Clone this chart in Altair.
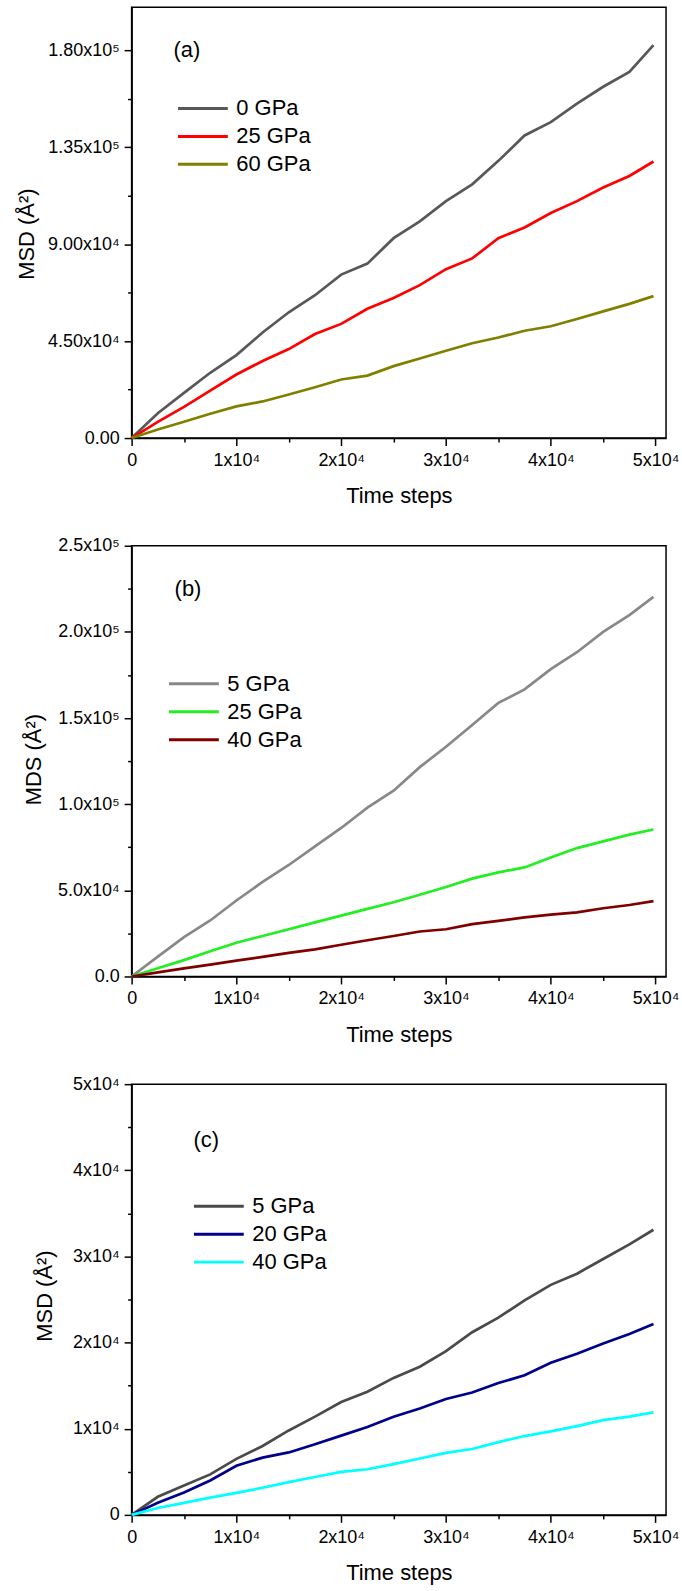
import json

import altair as alt
import pandas as pd

FONT = "Liberation Sans"

# Simulation time steps at which the curves are sampled
steps = [0, 2500, 5000, 7500, 10000, 12500, 15000, 17500, 20000, 22500, 25000,
         27500, 30000, 32500, 35000, 37500, 40000, 42500, 45000, 47500, 49800]

# (a) mean square displacement, Å²
a_names = ["0 GPa", "25 GPa", "60 GPa"]
a_colors = ["#58585a", "#ff0000", "#808000"]
a_0gpa = [0, 11500, 21000, 30300, 38500, 49000, 58400, 66300, 75900, 81000, 92800,
          100600, 110000, 117800, 128700, 140500, 146700, 155300, 163100, 170000, 182400]
a_25gpa = [0, 7500, 14500, 22000, 29500, 35800, 41300, 48300, 53000, 60000, 65000,
           71000, 78400, 83400, 92800, 97800, 104500, 110000, 116300, 121700, 128400]
a_60gpa = [0, 4000, 7600, 11300, 14700, 17000, 20200, 23600, 27200, 29000, 33400,
           36900, 40500, 44000, 46700, 49800, 51900, 55300, 58800, 62300, 65900]

# (b)
b_names = ["5 GPa", "25 GPa", "40 GPa"]
b_colors = ["#888888", "#22ee22", "#800000"]
b_5gpa = [0, 11500, 22800, 32500, 44100, 54900, 64700, 75500, 86200, 98000, 107800,
          121500, 133300, 146000, 158800, 166600, 178400, 188200, 200000, 209700, 220300]
b_25gpa = [0, 4800, 9500, 14600, 19600, 23500, 27400, 31400, 35300, 39200, 43100,
           47400, 51900, 56800, 60400, 63300, 69000, 74500, 78400, 82300, 85300]
b_40gpa = [0, 2400, 4700, 6900, 9200, 11400, 13700, 15700, 18400, 21000, 23500,
           26100, 27400, 30400, 32300, 34300, 35900, 37200, 39600, 41500, 43700]

# (c)
c_names = ["5 GPa", "20 GPa", "40 GPa"]
c_colors = ["#4a4a4a", "#00008b", "#00ffff"]
c_5gpa = [0, 2100, 3400, 4700, 6500, 8000, 9800, 11400, 13100, 14300, 15900,
          17200, 19000, 21200, 22900, 24900, 26700, 28000, 29700, 31400, 33100]
c_20gpa = [0, 1400, 2600, 4000, 5700, 6650, 7250, 8200, 9200, 10200, 11400,
           12350, 13450, 14200, 15300, 16200, 17650, 18700, 19900, 21000, 22150]
c_40gpa = [0, 800, 1400, 2000, 2550, 3150, 3800, 4400, 5000, 5300, 5900,
           6550, 7200, 7650, 8450, 9150, 9700, 10300, 11000, 11400, 11900]

# Axis ticks (empty label = minor tick)
x_tick_values = [0, 5000, 10000, 15000, 20000, 25000, 30000, 35000, 40000, 45000, 50000]
x_tick_labels = ["0", "", "1x10⁴", "", "2x10⁴", "", "3x10⁴", "", "4x10⁴", "", "5x10⁴"]

a_tick_values = [0, 22500, 45000, 67500, 90000, 112500, 135000, 157500, 180000]
a_tick_labels = ["0.00", "", "4.50x10⁴", "", "9.00x10⁴", "", "1.35x10⁵", "", "1.80x10⁵"]

b_tick_values = [0, 25000, 50000, 75000, 100000, 125000, 150000, 175000, 200000, 225000, 250000]
b_tick_labels = ["0.0", "", "5.0x10⁴", "", "1.0x10⁵", "", "1.5x10⁵", "", "2.0x10⁵", "", "2.5x10⁵"]

c_tick_values = [0, 5000, 10000, 15000, 20000, 25000, 30000, 35000, 40000, 45000, 50000]
c_tick_labels = ["0", "", "1x10⁴", "", "2x10⁴", "", "3x10⁴", "", "4x10⁴", "", "5x10⁴"]

W, H = 536, 432


def label_expr(values, labels):
    parts = [f"datum.value === {v} ? '{l}'" for v, l in zip(values, labels) if l]
    return " : ".join(parts) + " : ''"


def tick_size(values, labels):
    major = [v for v, l in zip(values, labels) if l]
    return {"condition": {"test": f"indexof({json.dumps(major)}, datum.value) >= 0",
                          "value": 7.5},
            "value": 4}


def panel(names, colors, series, y_max, y_values, y_labels, y_title,
          y_title_x, y_title_y, tag, tag_step, tag_msd, legend_x, legend_y):
    rows = []
    for name, vals in zip(names, series):
        for s, v in zip(steps, vals):
            rows.append({"step": s, "msd": v, "series": name})
    df = pd.DataFrame(rows)

    x = alt.X(
        "step:Q",
        scale=alt.Scale(domain=[0, 51000], nice=False, zero=False),
        axis=alt.Axis(
            values=x_tick_values,
            labelExpr=label_expr(x_tick_values, x_tick_labels),
            tickSize=tick_size(x_tick_values, x_tick_labels),
            labelFlush=False, labelOverlap=False, labelPadding=6,
            title="Time steps", titleX=W / 2, titleY=58,
            titleAlign="center", titleBaseline="middle",
        ),
    )
    y = alt.Y(
        "msd:Q",
        scale=alt.Scale(domain=[0, y_max], nice=False, zero=False),
        axis=alt.Axis(
            values=y_values,
            labelExpr=label_expr(y_values, y_labels),
            tickSize=tick_size(y_values, y_labels),
            labelFlush=False, labelOverlap=False, labelPadding=5,
            title=y_title, titleAngle=270, titleX=y_title_x, titleY=y_title_y,
            titleAlign="center", titleBaseline="middle",
        ),
    )
    color = alt.Color(
        "series:N",
        scale=alt.Scale(domain=names, range=colors),
        sort=names,
        legend=alt.Legend(
            title=None, orient="none", legendX=legend_x, legendY=legend_y,
            symbolType="M-4,0H1", symbolSize=400, symbolStrokeWidth=3,
            labelFont=FONT, labelFontSize=22, labelColor="black",
            labelOffset=7, rowPadding=5, padding=0,
        ),
    )
    lines = alt.Chart(df).mark_line(strokeWidth=2.7).encode(
        x=x, y=y, color=color, order="step:Q"
    )
    tag_df = pd.DataFrame({"step": [tag_step], "msd": [tag_msd], "label": [tag]})
    tag_mark = alt.Chart(tag_df).mark_text(
        align="left", baseline="middle", font=FONT, fontSize=22, color="black"
    ).encode(x="step:Q", y="msd:Q", text="label:N")
    return alt.layer(lines, tag_mark).properties(width=W, height=H)


pa = panel(a_names, a_colors, [a_0gpa, a_25gpa, a_60gpa], 200000,
           a_tick_values, a_tick_labels, "MSD (Å²)", -105, 227,
           "(a)", 4000, 180000, 75, 90)
pb = panel(b_names, b_colors, [b_5gpa, b_25gpa, b_40gpa], 250000,
           b_tick_values, b_tick_labels, "MDS (Å²)", -98, 214,
           "(b)", 4100, 225000, 66, 127)
pc = panel(c_names, c_colors, [c_5gpa, c_20gpa, c_40gpa], 50000,
           c_tick_values, c_tick_labels, "MSD (Å²)", -87, 212,
           "(c)", 5900, 43500, 91, 111)

chart = (
    alt.vconcat(pa, pb, pc, spacing=108, bounds="flush")
    .resolve_scale(color="independent")
    .resolve_legend(color="independent")
    .properties(padding={"left": 15, "top": 4, "right": 2, "bottom": 0},
                background="white")
    .configure_axis(
        labelFont=FONT, titleFont=FONT, labelFontSize=18, titleFontSize=22,
        titleFontWeight="normal", labelColor="black", titleColor="black",
        domainColor="black", tickColor="black", domainWidth=1.5, tickWidth=1.5,
        grid=False,
    )
    .configure_view(stroke="black", strokeWidth=1.5)
)

chart.save("out.html", embed_options={"renderer": "svg", "actions": False})
